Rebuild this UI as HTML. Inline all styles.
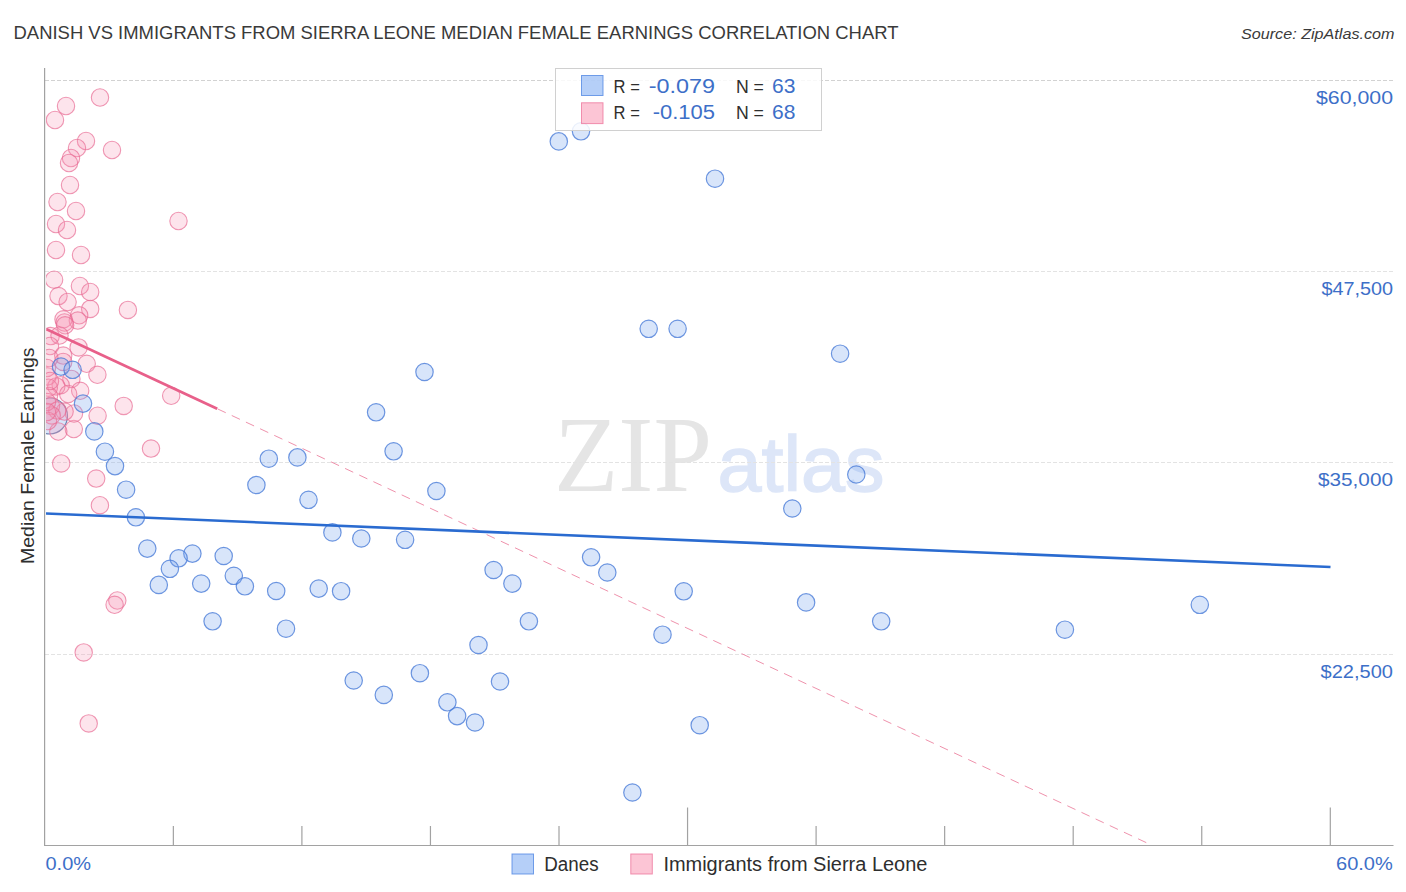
<!DOCTYPE html>
<html><head><meta charset="utf-8">
<style>
html,body{margin:0;padding:0;background:#fff;}
body{width:1406px;height:892px;overflow:hidden;position:relative;font-family:"Liberation Sans",sans-serif;}
svg{position:absolute;left:0;top:0;}
text{font-family:"Liberation Sans",sans-serif;}
.grid{stroke-width:1;stroke-dasharray:4 2;}
.ax{stroke:#a2a2a2;stroke-width:1.2;}
.b{fill:rgba(115,162,238,0.28);stroke:rgba(70,122,215,0.78);stroke-width:1.2;}
.p{fill:rgba(248,146,178,0.25);stroke:rgba(232,108,148,0.70);stroke-width:1.1;}
.ylab{fill:#3d6fc8;font-size:18px;}
</style></head><body>
<svg width="1406" height="892" viewBox="0 0 1406 892">
<defs><clipPath id="cp"><rect x="46" y="60" width="1350" height="785"/></clipPath></defs>
<text id="title" x="13.5" y="39.4" font-size="19" fill="#3a3a3a" textLength="885" lengthAdjust="spacingAndGlyphs">DANISH VS IMMIGRANTS FROM SIERRA LEONE MEDIAN FEMALE EARNINGS CORRELATION CHART</text>
<text id="src" x="1394.5" y="38.7" font-size="15.5" font-style="italic" fill="#3a3a3a" text-anchor="end" textLength="153.5" lengthAdjust="spacingAndGlyphs">Source: ZipAtlas.com</text>
<!-- watermark -->
<text x="554" y="490.5" style="font-family:'Liberation Serif',serif" font-size="107" fill="#e5e5e5" textLength="158" lengthAdjust="spacingAndGlyphs">ZIP</text>
<text x="717.5" y="490.5" font-size="78.5" fill="#dde6f8" stroke="#dde6f8" stroke-width="1.4" textLength="167" lengthAdjust="spacingAndGlyphs">atlas</text>
<line x1="45" y1="80.5" x2="1394" y2="80.5" class="grid" stroke="#d2d2d2"/>
<line x1="45" y1="271.5" x2="1394" y2="271.5" class="grid" stroke="#e3e3e3"/>
<line x1="45" y1="462.5" x2="1394" y2="462.5" class="grid" stroke="#e3e3e3"/>
<line x1="45" y1="654.5" x2="1394" y2="654.5" class="grid" stroke="#e3e3e3"/>

<g clip-path="url(#cp)">
<line x1="217.6" y1="408.9" x2="1147.5" y2="843.2" stroke="#ef92ac" stroke-width="1" stroke-dasharray="9 6.63"/>
<circle class="b" cx="49.5" cy="416" r="18" style="stroke:rgba(100,120,170,0.9)"/>
<circle class="p" cx="100" cy="97.5" r="8.7"/>
<circle class="p" cx="66" cy="106" r="8.7"/>
<circle class="p" cx="55" cy="120" r="8.7"/>
<circle class="p" cx="86" cy="141" r="8.7"/>
<circle class="p" cx="77" cy="148" r="8.7"/>
<circle class="p" cx="71" cy="158" r="8.7"/>
<circle class="p" cx="69" cy="163" r="8.7"/>
<circle class="p" cx="112" cy="150" r="8.7"/>
<circle class="p" cx="70" cy="185" r="8.7"/>
<circle class="p" cx="57.5" cy="202" r="8.7"/>
<circle class="p" cx="76" cy="211" r="8.7"/>
<circle class="p" cx="56" cy="224" r="8.7"/>
<circle class="p" cx="67" cy="230" r="8.7"/>
<circle class="p" cx="178.5" cy="221" r="8.7"/>
<circle class="p" cx="56" cy="250" r="8.7"/>
<circle class="p" cx="81" cy="255" r="8.7"/>
<circle class="p" cx="54.1" cy="279.7" r="8.7"/>
<circle class="p" cx="79.9" cy="286" r="8.7"/>
<circle class="p" cx="90.2" cy="292" r="8.7"/>
<circle class="p" cx="58.5" cy="296.1" r="8.7"/>
<circle class="p" cx="67.6" cy="302" r="8.7"/>
<circle class="p" cx="90.2" cy="308.9" r="8.7"/>
<circle class="p" cx="127.9" cy="309.9" r="8.7"/>
<circle class="p" cx="79.2" cy="315.3" r="8.7"/>
<circle class="p" cx="77.8" cy="320.6" r="8.7"/>
<circle class="p" cx="63.5" cy="319.3" r="8.7"/>
<circle class="p" cx="64.5" cy="322.5" r="8.7"/>
<circle class="p" cx="65.1" cy="325.3" r="8.7"/>
<circle class="p" cx="50.7" cy="336.1" r="8.7"/>
<circle class="p" cx="59.5" cy="335.5" r="8.7"/>
<circle class="p" cx="78.6" cy="347.4" r="8.7"/>
<circle class="p" cx="50" cy="346" r="8.7"/>
<circle class="p" cx="63.2" cy="355.6" r="8.7"/>
<circle class="p" cx="86.7" cy="363.8" r="8.7"/>
<circle class="p" cx="97.4" cy="374.8" r="8.7"/>
<circle class="p" cx="71.4" cy="378.9" r="8.7"/>
<circle class="p" cx="63.2" cy="361.9" r="8.7"/>
<circle class="p" cx="80.2" cy="390.8" r="8.7"/>
<circle class="p" cx="60.7" cy="385.2" r="8.7"/>
<circle class="p" cx="56.3" cy="386.4" r="8.7"/>
<circle class="p" cx="68.2" cy="394" r="8.7"/>
<circle class="p" cx="49.4" cy="358" r="8.7"/>
<circle class="p" cx="47.5" cy="376.4" r="8.7"/>
<circle class="p" cx="48.8" cy="387.7" r="8.7"/>
<circle class="p" cx="123.7" cy="405.9" r="8.7"/>
<circle class="p" cx="171.2" cy="395.8" r="8.7"/>
<circle class="p" cx="97.6" cy="415.7" r="8.7"/>
<circle class="p" cx="151" cy="448.6" r="8.7"/>
<circle class="p" cx="61.2" cy="463.4" r="8.7"/>
<circle class="p" cx="96.2" cy="478.6" r="8.7"/>
<circle class="p" cx="99.9" cy="505.2" r="8.7"/>
<circle class="p" cx="117.3" cy="600.5" r="8.7"/>
<circle class="p" cx="114.6" cy="604.8" r="8.7"/>
<circle class="p" cx="83.7" cy="652.4" r="8.7"/>
<circle class="p" cx="73.8" cy="429" r="8.7"/>
<circle class="p" cx="58.3" cy="431.5" r="8.7"/>
<circle class="p" cx="88.7" cy="723.4" r="8.7"/>
<circle class="p" cx="74" cy="413.5" r="8.7"/>
<circle class="p" cx="64.6" cy="411.6" r="8.7"/>
<circle class="p" cx="49" cy="396" r="8.7"/>
<circle class="p" cx="51" cy="406" r="8.7"/>
<circle class="p" cx="57.3" cy="410.4" r="8.7"/>
<circle class="p" cx="51.7" cy="415.4" r="8.7"/>
<circle class="p" cx="47" cy="402" r="8.7"/>
<circle class="p" cx="48" cy="421" r="8.7"/>
<circle class="p" cx="47" cy="368" r="8.7"/>
<circle class="p" cx="50" cy="381" r="8.7"/>
<circle class="p" cx="47" cy="412" r="8.7"/>
<circle class="b" cx="558.8" cy="141.4" r="8.7"/>
<circle class="b" cx="581" cy="131.3" r="8.7"/>
<circle class="b" cx="715" cy="178.7" r="8.7"/>
<circle class="b" cx="648.7" cy="328.8" r="8.7"/>
<circle class="b" cx="677.6" cy="328.8" r="8.7"/>
<circle class="b" cx="840.1" cy="353.7" r="8.7"/>
<circle class="b" cx="424.5" cy="372" r="8.7"/>
<circle class="b" cx="376.1" cy="412.3" r="8.7"/>
<circle class="b" cx="393.6" cy="451.3" r="8.7"/>
<circle class="b" cx="268.8" cy="458.7" r="8.7"/>
<circle class="b" cx="297.4" cy="457.4" r="8.7"/>
<circle class="b" cx="256.4" cy="485" r="8.7"/>
<circle class="b" cx="308.5" cy="499.8" r="8.7"/>
<circle class="b" cx="436.4" cy="491" r="8.7"/>
<circle class="b" cx="856.3" cy="474.5" r="8.7"/>
<circle class="b" cx="792.3" cy="508.5" r="8.7"/>
<circle class="b" cx="332.4" cy="532.4" r="8.7"/>
<circle class="b" cx="361.3" cy="538.5" r="8.7"/>
<circle class="b" cx="405.1" cy="539.8" r="8.7"/>
<circle class="b" cx="147.3" cy="548.6" r="8.7"/>
<circle class="b" cx="192.4" cy="553.6" r="8.7"/>
<circle class="b" cx="223.7" cy="556" r="8.7"/>
<circle class="b" cx="178.6" cy="558.3" r="8.7"/>
<circle class="b" cx="169.9" cy="568.8" r="8.7"/>
<circle class="b" cx="591.1" cy="557.3" r="8.7"/>
<circle class="b" cx="607.3" cy="572.5" r="8.7"/>
<circle class="b" cx="493.6" cy="570" r="8.7"/>
<circle class="b" cx="512.4" cy="583.6" r="8.7"/>
<circle class="b" cx="201.2" cy="583.6" r="8.7"/>
<circle class="b" cx="158.8" cy="584.9" r="8.7"/>
<circle class="b" cx="233.8" cy="575.8" r="8.7"/>
<circle class="b" cx="244.9" cy="586.3" r="8.7"/>
<circle class="b" cx="276.2" cy="591" r="8.7"/>
<circle class="b" cx="318.7" cy="588.6" r="8.7"/>
<circle class="b" cx="341.1" cy="591.2" r="8.7"/>
<circle class="b" cx="683.7" cy="591.3" r="8.7"/>
<circle class="b" cx="806.1" cy="602.4" r="8.7"/>
<circle class="b" cx="1199.8" cy="604.8" r="8.7"/>
<circle class="b" cx="212.6" cy="621.3" r="8.7"/>
<circle class="b" cx="286" cy="628.7" r="8.7"/>
<circle class="b" cx="528.9" cy="621.3" r="8.7"/>
<circle class="b" cx="662.5" cy="634.7" r="8.7"/>
<circle class="b" cx="881.2" cy="621.3" r="8.7"/>
<circle class="b" cx="1064.9" cy="629.7" r="8.7"/>
<circle class="b" cx="478.5" cy="645" r="8.7"/>
<circle class="b" cx="419.9" cy="673.2" r="8.7"/>
<circle class="b" cx="353.7" cy="680.5" r="8.7"/>
<circle class="b" cx="500" cy="681.5" r="8.7"/>
<circle class="b" cx="383.8" cy="694.9" r="8.7"/>
<circle class="b" cx="447.4" cy="702.3" r="8.7"/>
<circle class="b" cx="457.1" cy="716.1" r="8.7"/>
<circle class="b" cx="475" cy="722.5" r="8.7"/>
<circle class="b" cx="699.7" cy="725.2" r="8.7"/>
<circle class="b" cx="632.4" cy="792.5" r="8.7"/>
<circle class="b" cx="61" cy="366.6" r="8.7"/>
<circle class="b" cx="72.6" cy="369.8" r="8.7"/>
<circle class="b" cx="83" cy="403.6" r="8.7"/>
<circle class="b" cx="94.3" cy="431.4" r="8.7"/>
<circle class="b" cx="104.9" cy="451.7" r="8.7"/>
<circle class="b" cx="115" cy="466.1" r="8.7"/>
<circle class="b" cx="126.1" cy="489.7" r="8.7"/>
<circle class="b" cx="135.9" cy="517.3" r="8.7"/>
<line x1="45" y1="513.5" x2="1330.5" y2="567" stroke="#2a6bd0" stroke-width="2.6"/>
<line x1="46.5" y1="329.2" x2="217.2" y2="408.7" stroke="#e8608a" stroke-width="2.8"/>
</g>
<!-- axes -->
<line x1="44.6" y1="68" x2="44.6" y2="846" class="ax"/>
<line x1="44" y1="845.5" x2="1393.5" y2="845.5" class="ax"/>
<line x1="173.35" y1="826" x2="173.35" y2="845.5" class="ax"/>
<line x1="301.90" y1="826" x2="301.90" y2="845.5" class="ax"/>
<line x1="430.45" y1="826" x2="430.45" y2="845.5" class="ax"/>
<line x1="559.00" y1="826" x2="559.00" y2="845.5" class="ax"/>
<line x1="687.55" y1="807.5" x2="687.55" y2="845.5" class="ax"/>
<line x1="816.10" y1="826" x2="816.10" y2="845.5" class="ax"/>
<line x1="944.65" y1="826" x2="944.65" y2="845.5" class="ax"/>
<line x1="1073.20" y1="826" x2="1073.20" y2="845.5" class="ax"/>
<line x1="1201.75" y1="826" x2="1201.75" y2="845.5" class="ax"/>
<line x1="1330.30" y1="807.5" x2="1330.30" y2="845.5" class="ax"/>

<!-- y labels -->
<text class="ylab" x="1316" y="103.5" textLength="77" lengthAdjust="spacingAndGlyphs">$60,000</text>
<text class="ylab" x="1321.4" y="294.6" textLength="71.6" lengthAdjust="spacingAndGlyphs">$47,500</text>
<text class="ylab" x="1318" y="485.7" textLength="75" lengthAdjust="spacingAndGlyphs">$35,000</text>
<text class="ylab" x="1320.6" y="678.3" textLength="72.4" lengthAdjust="spacingAndGlyphs">$22,500</text>
<text class="ylab" x="45.5" y="869.5" textLength="45.5" lengthAdjust="spacingAndGlyphs">0.0%</text>
<text class="ylab" x="1336" y="869.5" textLength="56.8" lengthAdjust="spacingAndGlyphs">60.0%</text>
<text transform="translate(34.2,455.7) rotate(-90)" text-anchor="middle" font-size="19" fill="#2e2e2e" textLength="216.5" lengthAdjust="spacingAndGlyphs">Median Female Earnings</text>
<!-- top legend -->
<rect x="555.5" y="68.5" width="266" height="62" fill="rgba(255,255,255,0.85)" stroke="#d0d0d0" stroke-width="1"/>
<rect x="581.5" y="75.5" width="21.5" height="20" fill="rgba(108,160,242,0.5)" stroke="rgba(72,130,226,0.75)"/>
<rect x="581.5" y="102.8" width="21.5" height="20.8" fill="rgba(250,140,172,0.5)" stroke="rgba(236,112,152,0.75)"/>
<g font-size="18">
<text x="613.6" y="93.1" fill="#2e2e2e" textLength="26.2" lengthAdjust="spacingAndGlyphs">R =</text>
<text x="648.8" y="93.1" fill="#3d6fc8" font-size="20.5" textLength="66.2" lengthAdjust="spacingAndGlyphs">-0.079</text>
<text x="735.9" y="93.1" fill="#2e2e2e" textLength="28" lengthAdjust="spacingAndGlyphs">N =</text>
<text x="772" y="93.1" fill="#3d6fc8" font-size="20.5" textLength="23.4" lengthAdjust="spacingAndGlyphs">63</text>
<text x="613.6" y="119.4" fill="#2e2e2e" textLength="26.2" lengthAdjust="spacingAndGlyphs">R =</text>
<text x="652.7" y="119.4" fill="#3d6fc8" font-size="20.5" textLength="62.3" lengthAdjust="spacingAndGlyphs">-0.105</text>
<text x="735.9" y="119.4" fill="#2e2e2e" textLength="28" lengthAdjust="spacingAndGlyphs">N =</text>
<text x="772" y="119.4" fill="#3d6fc8" font-size="20.5" textLength="23.4" lengthAdjust="spacingAndGlyphs">68</text>
</g>
<!-- bottom legend -->
<rect x="512" y="854" width="21.5" height="20" fill="rgba(108,160,242,0.5)" stroke="rgba(72,130,226,0.75)"/>
<rect x="630.8" y="854" width="21.5" height="20" fill="rgba(250,140,172,0.5)" stroke="rgba(236,112,152,0.75)"/>
<text x="544.3" y="871" font-size="20" fill="#2e2e2e" textLength="54.3" lengthAdjust="spacingAndGlyphs">Danes</text>
<text x="663.4" y="871" font-size="20" fill="#2e2e2e" textLength="264" lengthAdjust="spacingAndGlyphs">Immigrants from Sierra Leone</text>
</svg>
</body></html>
